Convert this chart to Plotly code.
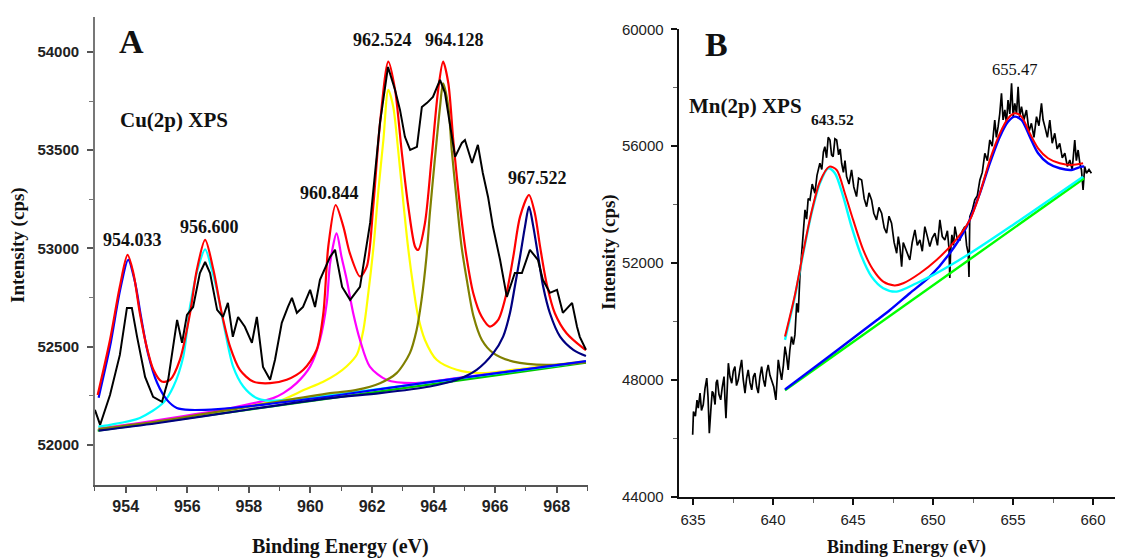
import plotly.graph_objects as go

# ---------------- Panel A : Cu(2p) XPS ----------------
cu_black = [(953.00, 52178), (953.17, 52102), (953.49, 52254), (953.81, 52458), (954.04, 52697),
            (954.20, 52697), (954.37, 52550), (954.63, 52346), (954.89, 52244), (955.18, 52219),
            (955.38, 52331), (955.67, 52636), (955.83, 52519), (955.99, 52662), (956.19, 52702),
            (956.41, 52875), (956.58, 52931), (956.74, 52875), (956.97, 52687), (957.16, 52651),
            (957.32, 52723), (957.48, 52550), (957.65, 52651), (957.87, 52601), (958.10, 52519),
            (958.26, 52651), (958.46, 52397), (958.69, 52331), (958.85, 52433), (959.07, 52621),
            (959.27, 52702), (959.40, 52748), (959.56, 52672), (959.76, 52702), (959.99, 52789),
            (960.15, 52702), (960.31, 52840), (960.64, 52957), (960.80, 52993), (961.03, 52804),
            (961.29, 52738), (961.61, 52804), (961.94, 53130), (962.26, 53639), (962.52, 53924),
            (962.75, 53807), (962.91, 53705), (963.07, 53568), (963.24, 53502), (963.46, 53517),
            (963.62, 53720), (963.79, 53741), (963.98, 53771), (964.21, 53858), (964.37, 53792),
            (964.53, 53639), (964.70, 53466), (964.92, 53537), (965.02, 53552), (965.25, 53435),
            (965.44, 53527), (965.60, 53384), (965.77, 53262), (965.93, 53110), (966.16, 52942),
            (966.38, 52753), (966.64, 52875), (966.87, 52875), (967.13, 52993), (967.39, 52942),
            (967.55, 52840), (967.78, 52774), (968.01, 52789), (968.20, 52672), (968.50, 52723),
            (968.66, 52601), (968.75, 52550), (968.95, 52484)]

cu_envelope = [(953.09, 52254), (953.49, 52534), (953.81, 52806), (954.06, 52967), (954.25, 52874),
               (954.46, 52670), (954.68, 52500), (954.90, 52382), (955.17, 52322), (955.44, 52331),
               (955.76, 52433), (956.09, 52670), (956.31, 52890), (956.58, 53043), (956.85, 52890),
               (957.12, 52670), (957.39, 52500), (957.71, 52382), (958.14, 52322), (958.69, 52314),
               (959.23, 52331), (959.77, 52382), (960.20, 52483), (960.42, 52670), (960.58, 53009),
               (960.82, 53221), (961.07, 53111), (961.28, 52976), (961.61, 52857), (961.83, 52907),
               (962.04, 53213), (962.26, 53637), (962.53, 53951), (962.75, 53807), (962.96, 53501),
               (963.18, 53213), (963.40, 53009), (963.50, 52992), (963.72, 53128), (963.94, 53467),
               (964.15, 53807), (964.31, 53951), (964.48, 53841), (964.64, 53552), (964.86, 53213),
               (965.07, 52958), (965.29, 52772), (965.56, 52653), (965.83, 52602), (966.10, 52636),
               (966.37, 52772), (966.59, 52958), (966.81, 53162), (967.10, 53272), (967.29, 53179),
               (967.46, 53009), (967.67, 52823), (967.94, 52670), (968.32, 52568), (968.86, 52492),
               (968.95, 52482)]

cu_baseline = [(953.09, 52072), (968.95, 52418)]

cu_peak_954 = [(953.12, 52240), (953.49, 52500), (953.82, 52789), (954.08, 52942), (954.30, 52830),
               (954.50, 52650), (954.72, 52468), (955.02, 52316), (955.34, 52229), (955.66, 52188),
               (956.08, 52178), (957.00, 52182), (958.50, 52205), (961.00, 52255), (964.00, 52322),
               (966.50, 52374), (968.95, 52426)]

cu_peak_956 = [(953.11, 52093), (953.49, 52102), (954.46, 52137), (955.22, 52214), (955.55, 52297),
               (955.87, 52449), (956.09, 52704), (956.35, 52900), (956.58, 52995), (956.80, 52890),
               (956.96, 52789), (957.22, 52585), (957.49, 52398), (957.82, 52297), (958.25, 52238),
               (958.60, 52225), (959.50, 52232), (961.00, 52260), (963.00, 52300), (965.50, 52352),
               (968.95, 52424)]

cu_peak_960 = [(953.12, 52082), (955.00, 52125), (957.50, 52190), (958.79, 52238), (959.12, 52263),
               (959.55, 52314), (959.99, 52398), (960.31, 52534), (960.53, 52721), (960.64, 52925),
               (960.85, 53077), (961.01, 52958), (961.18, 52840), (961.39, 52670), (961.61, 52534),
               (961.93, 52398), (962.47, 52331), (963.34, 52314), (965.00, 52345), (967.00, 52385),
               (968.95, 52424)]

cu_peak_962 = [(953.12, 52085), (956.00, 52140), (958.00, 52200), (959.00, 52225), (959.80, 52280),
               (960.40, 52320), (960.85, 52360), (961.18, 52400), (961.51, 52460), (961.72, 52585),
               (961.88, 52772), (962.05, 53009), (962.21, 53298), (962.37, 53552), (962.53, 53807),
               (962.69, 53721), (962.85, 53501), (963.01, 53247), (963.17, 53009), (963.34, 52806),
               (963.50, 52653), (963.72, 52534), (964.10, 52433), (964.75, 52382), (965.52, 52365),
               (967.00, 52390), (968.95, 52426)]

cu_peak_964 = [(953.12, 52080), (955.00, 52118), (958.00, 52195), (960.64, 52263), (961.50, 52280),
               (962.26, 52314), (962.80, 52365), (963.23, 52467), (963.45, 52585), (963.61, 52738),
               (963.77, 52958), (963.88, 53179), (964.05, 53467), (964.21, 53721), (964.31, 53840),
               (964.48, 53721), (964.59, 53501), (964.75, 53247), (964.91, 53009), (965.08, 52840),
               (965.30, 52653), (965.57, 52534), (965.94, 52467), (966.59, 52424), (967.68, 52407),
               (968.95, 52420)]

cu_peak_967 = [(953.12, 52072), (955.00, 52110), (958.00, 52180), (960.64, 52238), (962.26, 52263),
               (963.88, 52297), (964.75, 52331), (965.40, 52382), (965.94, 52467), (966.26, 52551),
               (966.48, 52670), (966.64, 52806), (966.81, 52958), (966.97, 53111), (967.10, 53213),
               (967.24, 53111), (967.40, 52958), (967.56, 52806), (967.78, 52670), (968.11, 52551),
               (968.54, 52484), (968.95, 52452)]

cu_peak_labels = ["954.033", "956.600", "960.844", "962.524", "964.128", "967.522"]

# ---------------- Panel B : Mn(2p) XPS ----------------
mn_black = [(634.98, 46112), (635.03, 46910), (635.15, 46750), (635.25, 47300), (635.33, 47026),
            (635.44, 47540), (635.53, 46950), (635.64, 47139), (635.75, 47700), (635.86, 48053),
            (635.94, 47400), (636.02, 46170), (636.12, 47000), (636.20, 47600), (636.27, 47540),
            (636.38, 47150), (636.45, 47900), (636.52, 47995), (636.62, 47500), (636.73, 47310),
            (636.83, 47750), (636.94, 48108), (637.00, 47300), (637.06, 46684), (637.14, 47700),
            (637.21, 48566), (637.31, 48100), (637.42, 47882), (637.52, 48300), (637.62, 48450),
            (637.72, 47800), (637.83, 47995), (637.93, 48350), (638.04, 48679), (638.14, 48000),
            (638.25, 47540), (638.35, 48050), (638.45, 48338), (638.56, 47900), (638.67, 47653),
            (638.77, 48100), (638.87, 48224), (638.98, 47750), (639.08, 47540), (639.18, 48100),
            (639.29, 48450), (639.40, 48000), (639.50, 47765), (639.60, 48250), (639.70, 48508),
            (639.81, 48150), (639.92, 47995), (640.05, 47750), (640.18, 47310), (640.26, 48200),
            (640.33, 48679), (640.44, 48300), (640.54, 47995), (640.65, 48500), (640.75, 49135),
            (640.85, 48800), (640.95, 48338), (641.05, 49000), (641.16, 49477), (641.27, 49200),
            (641.37, 49535), (641.48, 50620), (641.58, 50300), (641.68, 51530), (641.79, 52331),
            (641.90, 52900), (642.00, 53814), (642.10, 53500), (642.20, 54200), (642.31, 54157),
            (642.45, 54700), (642.62, 54385), (642.75, 55000), (642.93, 55412), (643.05, 55200),
            (643.15, 55800), (643.24, 55980), (643.35, 55600), (643.45, 56300), (643.56, 56210),
            (643.66, 55700), (643.76, 55638), (643.87, 56250), (643.98, 56210), (644.10, 55700),
            (644.20, 55900), (644.29, 55412), (644.40, 55100), (644.50, 55500), (644.60, 54956),
            (644.75, 54700), (644.91, 55183), (645.05, 54600), (645.22, 54270), (645.35, 54900),
            (645.54, 54841), (645.70, 54200), (645.85, 53927), (646.00, 54400), (646.16, 54157),
            (646.30, 53700), (646.47, 53472), (646.62, 53900), (646.79, 53700), (646.95, 53200),
            (647.10, 53016), (647.25, 53600), (647.41, 53358), (647.57, 52700), (647.73, 52331),
            (647.83, 52900), (647.93, 52558), (648.04, 51873), (648.14, 52700), (648.24, 52558),
            (648.40, 52350), (648.55, 52103), (648.70, 52700), (648.87, 53130), (649.02, 52600),
            (649.18, 52787), (649.33, 52400), (649.49, 53243), (649.65, 52900), (649.80, 52558),
            (649.95, 52850), (650.12, 53016), (650.28, 52600), (650.43, 53472), (650.58, 52900),
            (650.74, 52787), (650.90, 53100), (651.00, 52500), (651.05, 51480), (651.10, 52400),
            (651.18, 52958), (651.28, 52600), (651.37, 53243), (651.52, 52800), (651.68, 52787),
            (651.84, 53100), (651.99, 53243), (652.10, 52600), (652.20, 52331), (652.25, 51520),
            (652.30, 53586), (652.45, 53800), (652.61, 54157), (652.77, 54300), (652.93, 54841),
            (653.08, 55100), (653.24, 55754), (653.40, 55500), (653.55, 56210), (653.70, 56000),
            (653.86, 56894), (653.96, 56300), (654.07, 56666), (654.17, 57100), (654.28, 57808),
            (654.38, 56900), (654.49, 57237), (654.59, 56800), (654.69, 57579), (654.80, 57100),
            (654.91, 58150), (655.01, 57000), (655.11, 57465), (655.22, 57100), (655.32, 58035),
            (655.42, 57000), (655.53, 57351), (655.68, 56900), (655.84, 57237), (656.00, 56500),
            (656.15, 56781), (656.31, 56300), (656.47, 57009), (656.62, 56700), (656.78, 57465),
            (656.88, 56900), (656.99, 56666), (657.15, 56300), (657.30, 56894), (657.45, 56100),
            (657.61, 56439), (657.76, 55900), (657.92, 56096), (658.08, 55600), (658.24, 55754),
            (658.40, 55300), (658.55, 55525), (658.70, 55200), (658.86, 56210), (658.96, 55500),
            (659.07, 55867), (659.18, 55400), (659.28, 55183), (659.38, 54498), (659.48, 55300),
            (659.59, 55069), (659.75, 55200), (659.90, 55069)]

mn_envelope = [(640.75, 49477), (641.37, 50900), (641.89, 52380), (642.41, 53750), (642.93, 54780),
               (643.52, 55296), (643.98, 55183), (644.49, 54385), (645.01, 53472), (645.64, 52445),
               (646.26, 51760), (646.89, 51359), (647.60, 51230), (648.14, 51304), (649.18, 51647),
               (650.22, 52102), (651.26, 52674), (652.30, 53471), (652.93, 54385), (653.55, 55525),
               (654.18, 56438), (654.69, 56952), (655.11, 57123), (655.53, 57008), (656.05, 56438),
               (656.57, 55925), (657.19, 55583), (657.92, 55412), (658.65, 55354), (659.38, 55412)]

mn_peak_643 = [(640.75, 49364), (641.37, 50846), (641.89, 52331), (642.41, 53700), (642.93, 54727),
               (643.45, 55241), (643.87, 55070), (644.39, 54270), (644.91, 53242), (645.54, 52215),
               (646.16, 51530), (646.89, 51134), (647.73, 51017), (648.97, 51304), (650.00, 51580),
               (652.30, 52320), (655.00, 53300), (659.38, 54950)]

mn_peak_655 = [(640.75, 47665), (643.00, 48590), (645.00, 49420), (646.50, 50043), (647.31, 50386),
               (648.55, 50962), (649.80, 51530), (651.05, 52331), (652.10, 53242), (652.93, 54385),
               (653.55, 55412), (654.18, 56324), (654.69, 56837), (655.11, 57009), (655.53, 56894),
               (656.05, 56323), (656.57, 55754), (657.19, 55412), (657.92, 55241), (658.65, 55183),
               (659.28, 55296), (659.45, 55300)]

mn_baseline = [(640.75, 47640), (659.45, 54900)]

mn_peak_labels = ["643.52", "655.47"]

# Screen placement: positions below are pixels on the final 1123x560 picture.
# The page shows the figure shifted by OFFX to the right and, vertically,
# at OFFY + SY * figure_y.
OFFX, OFFY, SY = 8, 17, 0.97
W, H = 1115, 560
SERIF = "Liberation Serif"
SANS = "Liberation Sans"


def px2x(px):
    return (px - OFFX) / W


def py2y(py):
    return 1 - ((py - OFFY) / SY) / H


def lin(p0, v0, p1, v1, p):
    return v0 + (p - p0) * (v1 - v0) / (p1 - p0)


def xs(pts):
    return [p[0] for p in pts]


def ys(pts):
    return [p[1] for p in pts]


fig = go.Figure()


def add(pts, color, width, axis, spline=True):
    fig.add_trace(go.Scatter(
        x=xs(pts), y=ys(pts), mode="lines",
        line=dict(color=color, width=width, shape="spline" if spline else "linear", smoothing=0.8),
        xaxis="x" if axis == 1 else "x2", yaxis="y" if axis == 1 else "y2",
        showlegend=False, hoverinfo="skip"))


# Panel A
add(cu_baseline, "#00c800", 2.2, 1, False)
add(cu_peak_962, "#ffff00", 2.2, 1)
add(cu_peak_960, "#ff00ff", 2.2, 1)
add(cu_peak_956, "#00ffff", 2.2, 1)
add(cu_peak_964, "#808000", 2.2, 1)
add(cu_peak_954, "#0000ff", 2.2, 1)
add(cu_peak_967, "#000080", 2.2, 1)
add(cu_envelope, "#ff0000", 2.2, 1)
add(cu_black, "#000000", 2.0, 1, False)

# Panel B
add(mn_black, "#000000", 1.7, 2, False)
add(mn_baseline, "#00ff00", 2.4, 2, False)
add(mn_peak_655, "#0000ff", 2.4, 2)
add(mn_peak_643, "#00ffff", 2.4, 2)
add(mn_envelope, "#ff0000", 2.0, 2)

# axis frames (screen pixels)
A_L, A_R, A_T, A_B = 94.9, 587.6, OFFY, 485.0
B_L, B_R, B_T, B_B = 678.6, 1123.0, 29.3, 496.7
a_xr = [lin(125.7, 954, 556.7, 968, A_L), lin(125.7, 954, 556.7, 968, A_R)]
a_yr = [lin(445, 52000, 52, 54000, A_B), lin(445, 52000, 52, 54000, A_T)]
b_xr = [lin(693, 635, 1093, 660, B_L), lin(693, 635, 1093, 660, B_R)]
b_yr = [44000, 60000]

axcommon = dict(showgrid=False, zeroline=False, showline=True, ticks="outside", mirror=False)

fig.update_layout(
    width=W, height=H, margin=dict(l=0, r=0, t=0, b=0),
    paper_bgcolor="white", plot_bgcolor="white",
    xaxis=dict(**axcommon, domain=[px2x(A_L), px2x(A_R)], range=a_xr, anchor="y",
               tick0=954, dtick=2, linecolor="#555", linewidth=1.5, tickcolor="#555",
               tickwidth=1.5, ticklen=6, ticklabelstandoff=0,
               minor=dict(dtick=1, tick0=953, ticks="outside", ticklen=4, tickcolor="#555", tickwidth=1.2),
               tickfont=dict(family=SANS, size=16, color="#222", weight="bold")),
    yaxis=dict(**axcommon, domain=[py2y(A_B), min(1.0, py2y(A_T))], range=a_yr, anchor="x",
               tick0=52000, dtick=500, tickformat="d", linecolor="#777", linewidth=1.5,
               tickcolor="#555", tickwidth=1.5, ticklen=6, ticklabelstandoff=5,
               minor=dict(dtick=250, ticks="outside", ticklen=4, tickcolor="#777", tickwidth=1.2),
               tickfont=dict(family=SANS, size=15, color="#222", weight="bold")),
    xaxis2=dict(**axcommon, domain=[px2x(B_L), 1.0], range=b_xr, anchor="y2",
                tick0=635, dtick=5, linecolor="#111", linewidth=2, tickcolor="#111",
                tickwidth=1.8, ticklen=6, ticklabelstandoff=2,
                minor=dict(dtick=2.5, ticks="outside", ticklen=4, tickcolor="#666", tickwidth=1.2),
                tickfont=dict(family=SANS, size=15, color="#222")),
    yaxis2=dict(**axcommon, domain=[py2y(B_B), py2y(B_T)], range=b_yr, anchor="x2",
                tick0=44000, dtick=4000, tickformat="d", linecolor="#111", linewidth=2,
                tickcolor="#111", tickwidth=1.8, ticklen=6, ticklabelstandoff=4,
                minor=dict(dtick=2000, ticks="outside", ticklen=4, tickcolor="#666", tickwidth=1.2),
                tickfont=dict(family=SANS, size=15, color="#222")),
)


def note(text, px, py, size, bold=True, angle=0):
    fig.add_annotation(text=text, x=px2x(px), y=py2y(py), xref="paper", yref="paper",
                       showarrow=False, textangle=angle, xanchor="center", yanchor="middle",
                       font=dict(family=SERIF, size=size, color="#111",
                                 weight="bold" if bold else "normal"))


note("A", 131, 42, 34)
note("B", 716, 45, 34)
note("Cu(2p) XPS", 174, 120, 21)
note("Mn(2p) XPS", 745, 106, 21)

cu_label_pos = [(132, 240), (209, 227), (329, 193), (382, 40), (454, 40), (537, 178)]
for t, (px, py) in zip(cu_peak_labels, cu_label_pos):
    note(t, px, py, 18)
note(mn_peak_labels[0], 832, 120, 15.5)
note(mn_peak_labels[1], 1014, 70, 16.5, bold=False)

note("Intensity (cps)", 18, 245, 19, angle=-90)
note("Intensity (cps)", 609, 252, 19, angle=-90)
note("Binding Energy (eV)", 340, 547, 20)
note("Binding Energy (eV)", 906, 548, 18)

fig.write_html("out.html")
